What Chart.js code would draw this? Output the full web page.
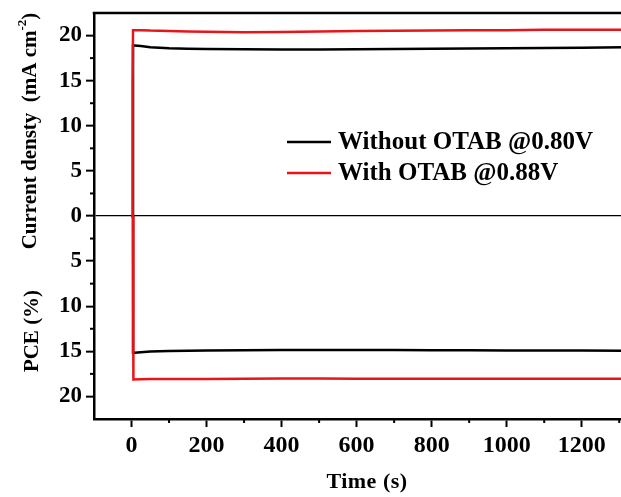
<!DOCTYPE html>
<html>
<head>
<meta charset="utf-8">
<title>J-t and PCE stability</title>
<script src="https://cdn.jsdelivr.net/npm/chart.js@4.4.0/dist/chart.umd.min.js"></script>
<style>
    html, body { margin: 0; padding: 0; background: #fff; overflow: hidden; }
    #wrap { width: 640px; height: 497px; }
</style>
</head>
<body>
<div id="wrap"><canvas id="stability-chart" width="640" height="497"></canvas></div>
<script>
// time grid of the plateau part (s)
const timeS = [25, 50, 100, 150, 200, 300, 400, 500, 600, 700, 800, 900, 1000, 1100, 1200, 1310];

// current density (mA cm-2), plateau
const jWithout = [18.85, 18.7, 18.6, 18.55, 18.52, 18.47, 18.45, 18.45, 18.47, 18.5, 18.53, 18.57, 18.6, 18.62, 18.66, 18.7];
const jWith = [20.6, 20.55, 20.5, 20.45, 20.42, 20.38, 20.4, 20.45, 20.5, 20.52, 20.55, 20.58, 20.6, 20.63, 20.65, 20.65];
// PCE (%), plateau
const pceWithout = [15.1, 15.02, 14.97, 14.93, 14.9, 14.87, 14.85, 14.85, 14.85, 14.86, 14.87, 14.88, 14.9, 14.9, 14.92, 14.93];
const pceWith = [18.1, 18.08, 18.08, 18.07, 18.06, 18.05, 18.02, 18.02, 18.03, 18.04, 18.04, 18.05, 18.05, 18.05, 18.04, 18.04];

// switch-on part of each trace
const jWithoutOnT = [0, 4, 4, 8];   const jWithoutOnV = [0, 0, 18.9, 18.9];
const jWithOnT = [0, 3, 3, 4];      const jWithOnV = [0, 0, 14.8, 20.6];
const pceWithoutOnT = [0, 4, 4, 8]; const pceWithoutOnV = [0, 0, 15.15, 15.15];
const pceWithOnT = [0, 4, 4, 6];    const pceWithOnV = [0, 0, 13, 18.12];

const labelWithout = "Without OTAB @0.80V";
const labelWith = "With OTAB @0.88V";

const xTicks = [0, 200, 400, 600, 800, 1000, 1200];
const xMinor = [100, 300, 500, 700, 900, 1100, 1300];
const yTicks = [-20, -15, -10, -5, 0, 5, 10, 15, 20];
const yMinor = [-17.5, -12.5, -7.5, -2.5, 2.5, 7.5, 12.5, 17.5];

const serif = '"Liberation Serif", "Times New Roman", serif';

// PCE goes downwards, so it is plotted with a minus sign
function trace(onT, onV, vals, sign) {
    const head = onT.map((t, i) => ({ x: t, y: sign * onV[i] }));
    const tail = timeS.map((t, i) => ({ x: t, y: sign * vals[i] }));
    return head.concat(tail);
}

// no extra room for tick labels that stay inside the frame anyway
function noLabelPadding(s) {
    s.paddingTop = 0;
    s.paddingBottom = 0;
    s.paddingLeft = 0;
    s.paddingRight = 0;
}

const decorPlugin = {
    id: "decor",
    afterDraw(chart) {
        const { ctx, chartArea: a, scales: { x, y } } = chart;
        ctx.save();
        ctx.strokeStyle = "#000";
        ctx.fillStyle = "#000";

        // top frame line
        ctx.lineWidth = 2.5;
        ctx.beginPath();
        ctx.moveTo(a.left - 1.25, a.top);
        ctx.lineTo(a.right, a.top);
        ctx.stroke();

        // minor ticks
        ctx.lineWidth = 2;
        xMinor.forEach(v => {
            const px = x.getPixelForValue(v);
            if (px > a.right) return;
            ctx.beginPath();
            ctx.moveTo(px, a.bottom);
            ctx.lineTo(px, a.bottom + 4);
            ctx.stroke();
        });
        yMinor.forEach(v => {
            const py = y.getPixelForValue(v);
            ctx.beginPath();
            ctx.moveTo(a.left - 4, py);
            ctx.lineTo(a.left, py);
            ctx.stroke();
        });

        // legend
        const rows = chart.data.datasets.filter(d => d.inLegend).sort((p, q) => p.inLegend - q.inLegend);
        ctx.font = "bold 25px " + serif;
        ctx.textBaseline = "middle";
        ctx.textAlign = "left";
        rows.forEach((d, i) => {
            const ry = 142 + i * 31;
            ctx.strokeStyle = d.borderColor;
            ctx.lineWidth = 2.5;
            ctx.beginPath();
            ctx.moveTo(287, ry);
            ctx.lineTo(331, ry);
            ctx.stroke();
            ctx.fillText(d.label, 338, ry + 1);
        });

        // axis titles
        ctx.font = "bold 22px " + serif;
        ctx.textAlign = "center";
        ctx.letterSpacing = "0.5px";
        ctx.fillText("Time (s)", 367, 482);
        ctx.letterSpacing = "0px";

        // left titles, rotated
        ctx.textAlign = "left";
        const main = "Current densty  (mA cm";
        const sup = "-2";
        const close = ")";
        ctx.font = "bold 21px " + serif;
        const wMain = ctx.measureText(main).width;
        const wClose = ctx.measureText(close).width;
        ctx.font = "bold 13px " + serif;
        const wSup = ctx.measureText(sup).width;
        const total = wMain + wSup + wClose;

        ctx.save();
        ctx.translate(31, 131);
        ctx.rotate(-Math.PI / 2);
        let cx = -total / 2;
        ctx.font = "bold 21px " + serif;
        ctx.fillText(main, cx, 0);
        cx += wMain;
        ctx.font = "bold 13px " + serif;
        ctx.fillText(sup, cx, -8);
        cx += wSup;
        ctx.font = "bold 21px " + serif;
        ctx.fillText(close, cx, 0);
        ctx.restore();

        ctx.save();
        ctx.translate(33, 331);
        ctx.rotate(-Math.PI / 2);
        ctx.textAlign = "center";
        ctx.font = "bold 21px " + serif;
        ctx.fillText("PCE (%)", 0, 0);
        ctx.restore();

        ctx.restore();
    }
};

document.addEventListener("DOMContentLoaded", function () {
    const canvas = document.getElementById("stability-chart");
    const tickFont = { family: serif, size: 23, weight: "bold" };

    new Chart(canvas.getContext("2d"), {
        type: "line",
        data: {
            datasets: [
                {
                    label: labelWith,
                    inLegend: 2,
                    data: trace(jWithOnT, jWithOnV, jWith, 1),
                    borderColor: "#e8141b"
                },
                {
                    label: labelWith + " PCE",
                    data: trace(pceWithOnT, pceWithOnV, pceWith, -1),
                    borderColor: "#e8141b"
                },
                {
                    label: labelWithout,
                    inLegend: 1,
                    data: trace(jWithoutOnT, jWithoutOnV, jWithout, 1),
                    borderColor: "#000"
                },
                {
                    label: labelWithout + " PCE",
                    data: trace(pceWithoutOnT, pceWithoutOnV, pceWithout, -1),
                    borderColor: "#000"
                }
            ]
        },
        options: {
            responsive: false,
            animation: false,
            layout: { padding: { top: 13, right: 17, left: 0, bottom: 0 } },
            elements: {
                point: { radius: 0 },
                line: { borderWidth: 2.5, tension: 0, fill: false }
            },
            plugins: {
                legend: { display: false },
                tooltip: { enabled: false }
            },
            scales: {
                x: {
                    type: "linear",
                    min: -100,
                    max: 1310,
                    afterFit: s => { s.height = 78; noLabelPadding(s); },
                    afterBuildTicks: s => { s.ticks = xTicks.map(v => ({ value: v })); },
                    grid: { drawOnChartArea: false, tickLength: 8, tickWidth: 2, tickColor: "#000" },
                    border: { display: true, color: "#000", width: 2.5 },
                    ticks: {
                        font: { family: serif, size: 24, weight: "bold" },
                        color: "#000",
                        padding: 4,
                        maxRotation: 0,
                        callback: v => String(v)
                    }
                },
                y: {
                    type: "linear",
                    min: -22.5,
                    max: 22.5,
                    afterFit: s => { s.width = 94; noLabelPadding(s); },
                    afterBuildTicks: s => { s.ticks = yTicks.map(v => ({ value: v })); },
                    grid: {
                        drawOnChartArea: true,
                        color: c => (c.tick && c.tick.value === 0) ? "#000" : "rgba(0,0,0,0)",
                        lineWidth: 1.3,
                        tickLength: 8,
                        tickWidth: 2,
                        tickColor: "#000"
                    },
                    border: { display: true, color: "#000", width: 2.5 },
                    ticks: {
                        font: tickFont,
                        color: "#000",
                        padding: 4,
                        callback: v => String(Math.abs(v))
                    }
                }
            }
        },
        plugins: [decorPlugin]
    });
});
</script>
</body>
</html>
